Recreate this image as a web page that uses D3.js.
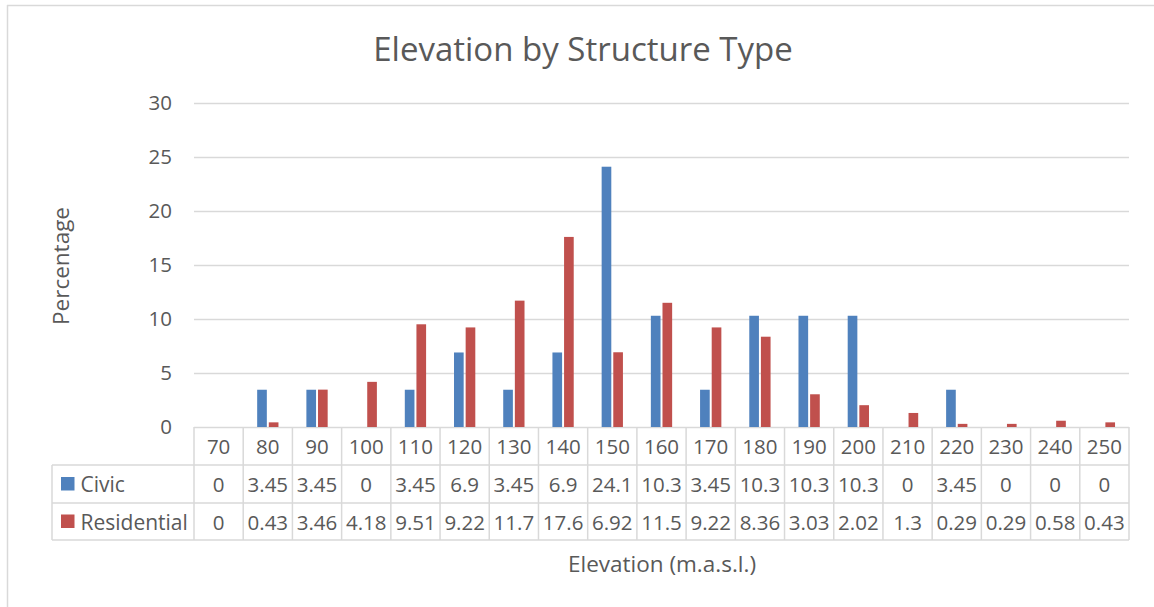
<!DOCTYPE html>
<html>
<head>
<meta charset="utf-8">
<script src="https://cdn.jsdelivr.net/npm/d3@7/dist/d3.min.js"></script>
<style>
  html, body { margin: 0; padding: 0; background: #fff; }
  svg { display: block; font-family: "Open Sans", sans-serif; }
</style>
</head>
<body>
<svg id="chart" width="1154" height="607"></svg>
<script>
// Elevation bins (m.a.s.l.)
const categories = ["70","80","90","100","110","120","130","140","150","160","170","180","190","200","210","220","230","240","250"];
// Percentage of structures per bin
const civic       = [0, 3.45, 3.45, 0, 3.45, 6.9, 3.45, 6.9, 24.1, 10.3, 3.45, 10.3, 10.3, 10.3, 0, 3.45, 0, 0, 0];
const residential = [0, 0.43, 3.46, 4.18, 9.51, 9.22, 11.7, 17.6, 6.92, 11.5, 9.22, 8.36, 3.03, 2.02, 1.3, 0.29, 0.29, 0.58, 0.43];
const yTicks = [0, 5, 10, 15, 20, 25, 30];

const series = [
  { name: "Civic", values: civic, color: "#4f81bd" },
  { name: "Residential", values: residential, color: "#c0504d" }
];

const svg = d3.select("#chart");
const textColor = "#595959";
const gridColor = "#d9d9d9";
const numSize = "20.5px";
const labelSize = "21px";

// chart frame
svg.append("line").attr("x1", 7.5).attr("x2", 7.5).attr("y1", 5).attr("y2", 607)
  .attr("stroke", gridColor).attr("stroke-width", 1.5);
svg.append("line").attr("x1", 7).attr("x2", 1154).attr("y1", 5.5).attr("y2", 5.5)
  .attr("stroke", gridColor).attr("stroke-width", 1.5);

const plot = { left: 194, right: 1129, top: 103, bottom: 427 };

const x = d3.scaleBand().domain(categories).range([plot.left, plot.right]).paddingInner(0).paddingOuter(0);
const xInner = d3.scaleBand().domain(series.map(s => s.name)).range([0, x.bandwidth()]).paddingInner(0.17).paddingOuter(1.2);
const y = d3.scaleLinear().domain([0, 30]).range([plot.bottom, plot.top]);

// horizontal gridlines
svg.append("g").selectAll("line").data(yTicks).join("line")
  .attr("x1", plot.left).attr("x2", plot.right)
  .attr("y1", d => Math.round(y(d)) + 0.5).attr("y2", d => Math.round(y(d)) + 0.5)
  .attr("stroke", gridColor).attr("stroke-width", 1.5);

// y axis tick labels
const yAxis = d3.axisLeft(y).tickValues(yTicks).tickSize(0).tickPadding(0);
const yg = svg.append("g").attr("transform", `translate(172,0)`).call(yAxis);
yg.select(".domain").remove();
yg.selectAll("text").attr("fill", textColor).style("font-size", numSize).style("font-family", "'Open Sans', sans-serif");

// bars
const groups = svg.append("g").selectAll("g").data(categories).join("g")
  .attr("transform", d => `translate(${x(d)},0)`);
groups.selectAll("rect").data((d, i) => series.map(s => ({ s, v: s.values[i] }))).join("rect")
  .attr("x", d => xInner(d.s.name))
  .attr("width", xInner.bandwidth())
  .attr("y", d => y(d.v))
  .attr("height", d => y(0) - y(d.v))
  .attr("fill", d => d.s.color);

// data table under the axis
const rowTop = [plot.bottom, 465, 503];
const rowBottom = 540;
const legendLeft = 52;
const table = svg.append("g");
const lineAttrs = sel => sel.attr("stroke", gridColor).attr("stroke-width", 1.5);

// vertical cell borders
const edges = categories.map(c => x(c)).concat([plot.right]);
table.selectAll("line.v").data(edges).join("line").attr("class", "v")
  .attr("x1", d => d).attr("x2", d => d).attr("y1", plot.bottom).attr("y2", rowBottom).call(lineAttrs);
table.append("line").attr("x1", legendLeft).attr("x2", legendLeft).attr("y1", rowTop[1]).attr("y2", rowBottom).call(lineAttrs);
// horizontal row borders
[rowTop[1], rowTop[2], rowBottom].forEach(yy => {
  table.append("line").attr("x1", legendLeft).attr("x2", plot.right).attr("y1", yy).attr("y2", yy).call(lineAttrs);
});

// category header labels
table.selectAll("text.cat").data(categories).join("text").attr("class", "cat")
  .attr("x", d => x(d) + x.bandwidth() / 2).attr("y", (plot.bottom + rowTop[1]) / 2)
  .attr("text-anchor", "middle").attr("dominant-baseline", "central")
  .attr("fill", textColor).style("font-size", numSize).text(d => d);

// value rows with legend keys
series.forEach((s, si) => {
  const top = rowTop[si + 1];
  const bottom = si + 2 < rowTop.length ? rowTop[si + 2] : rowBottom;
  const cy = (top + bottom) / 2;
  table.append("rect").attr("x", 61).attr("y", cy - 7).attr("width", 13.5).attr("height", 13.5).attr("fill", s.color);
  table.append("text").attr("x", 80.5).attr("y", cy).attr("dominant-baseline", "central")
    .attr("fill", textColor).style("font-size", labelSize).text(s.name);
  table.selectAll(null).data(s.values).join("text")
    .attr("x", (d, i) => x(categories[i]) + x.bandwidth() / 2).attr("y", cy)
    .attr("text-anchor", "middle").attr("dominant-baseline", "central")
    .attr("fill", textColor).style("font-size", numSize).text(d => d);
});

// titles
svg.append("text").attr("x", 583).attr("y", 61).attr("text-anchor", "middle")
  .attr("fill", textColor).style("font-size", "33px").text("Elevation by Structure Type");
svg.append("text").attr("x", 662).attr("y", 563).attr("text-anchor", "middle").attr("dominant-baseline", "central")
  .attr("fill", textColor).style("font-size", "22.5px").text("Elevation (m.a.s.l.)");
svg.append("text").attr("transform", "translate(60,266) rotate(-90)").attr("text-anchor", "middle").attr("dominant-baseline", "central")
  .attr("fill", textColor).style("font-size", "22.5px").text("Percentage");
</script>
</body>
</html>
